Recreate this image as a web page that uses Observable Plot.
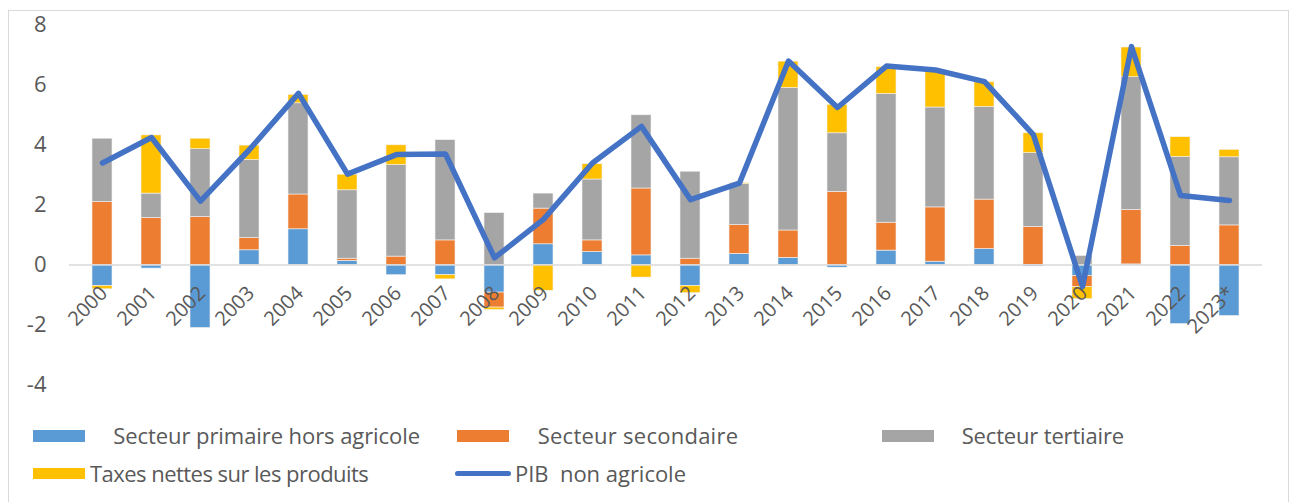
<!DOCTYPE html>
<html>
<head>
<meta charset="utf-8">
<script src="https://cdn.jsdelivr.net/npm/d3@7"></script>
<script src="https://cdn.jsdelivr.net/npm/@observablehq/plot@0.6"></script>
<style>
  html, body { margin: 0; padding: 0; background: #fff; }
  body { width: 1291px; height: 502px; position: relative; overflow: hidden; font-family: "Open Sans", sans-serif; }
  #frame { position: absolute; left: 7.5px; top: 9.5px; width: 1281.5px; height: 510px; border: 1.5px solid #d9d9d9; box-sizing: border-box; }
  #chart { position: absolute; left: 0; top: 0; }
  .lg { position: absolute; font-size: 22px; color: #595959; white-space: pre; line-height: 22px; }
  .sw { position: absolute; height: 11.5px; }
  .ln { position: absolute; height: 5px; border-radius: 3px; background: #4472C4; }
</style>
</head>
<body>
<div id="frame"></div>
<div id="chart"></div>
<div id="legend"></div>
<script>
const years = ["2000","2001","2002","2003","2004","2005","2006","2007","2008","2009","2010","2011","2012","2013","2014","2015","2016","2017","2018","2019","2020","2021","2022","2023*"];
const primaire   = [-0.70,-0.12,-2.10,0.49,1.19,0.14,-0.34,-0.34,-0.92,0.69,0.43,0.32,-0.70,0.37,0.24,-0.09,0.48,0.11,0.53,-0.05,-0.37,0.02,-1.97,-1.70];
const secondaire = [2.10,1.57,1.60,0.41,1.16,0.07,0.28,0.82,-0.50,1.19,0.39,2.23,0.21,0.96,0.91,2.44,0.93,1.81,1.65,1.27,-0.36,1.82,0.64,1.32];
const tertiaire  = [2.11,0.81,2.26,2.60,3.04,2.28,3.05,3.34,1.73,0.50,2.03,2.44,2.90,1.37,4.75,1.95,4.29,3.33,3.09,2.46,0.30,4.42,2.96,2.27];
const taxes      = [-0.11,1.94,0.35,0.48,0.28,0.52,0.66,-0.14,-0.08,-0.86,0.51,-0.42,-0.24,0.03,0.88,0.95,0.90,1.25,0.82,0.66,-0.41,0.99,0.66,0.25];
const pib        = [3.40,4.25,2.13,3.85,5.72,3.03,3.68,3.70,0.24,1.52,3.40,4.62,2.18,2.73,6.80,5.25,6.63,6.50,6.11,4.34,-0.72,7.28,2.32,2.15];
const seriesNames = ["Secteur primaire hors agricole","Secteur secondaire","Secteur tertiaire","Taxes nettes sur les produits"];
const seriesColors = ["#5B9BD5","#ED7D31","#A5A5A5","#FFC000"];
const lineName = "PIB  non agricole";
const lineColor = "#4472C4";
const yTicks = [-4,-2,0,2,4,6,8];

const seriesValues = [primaire, secondaire, tertiaire, taxes];
const rows = years.flatMap((yr, i) => seriesNames.map((s, k) => ({year: yr, series: s, value: seriesValues[k][i]})));
const lineRows = years.map((yr, i) => ({year: yr, value: pib[i]}));

const chart = Plot.plot({
  width: 1291,
  height: 400,
  marginTop: 24.5,
  marginBottom: 15.5,
  marginLeft: 69,
  marginRight: 29,
  style: {fontFamily: "Open Sans, sans-serif", fontSize: "22px", color: "#595959", background: "transparent", overflow: "visible"},
  x: {domain: years, paddingInner: 0.6, paddingOuter: 0.3, axis: null},
  y: {domain: [-4, 8], ticks: yTicks, tickSize: 0, tickPadding: 23, label: null, tickFormat: d => String(d)},
  color: {domain: seriesNames, range: seriesColors},
  marks: [
    Plot.barY(rows, {x: "year", y: "value", fill: "series", stroke: "#f2f2f2", strokeWidth: 0.6}),
    Plot.ruleY([0], {stroke: "#d9d9d9", strokeWidth: 1.5}),
    Plot.line(lineRows, {x: "year", y: "value", stroke: lineColor, strokeWidth: 5.5, strokeLinejoin: "round", strokeLinecap: "round"}),
    Plot.text(years, {x: d => d, y: () => 0, text: d => d, rotate: -45, textAnchor: "end", lineAnchor: "middle", dx: 1.5, dy: 25, fontSize: 20, fill: "#595959"})
  ]
});
document.getElementById("chart").appendChild(chart);

const legend = document.getElementById("legend");
function sw(left, top, w, color) {
  const d = document.createElement("div"); d.className = "sw";
  d.style.left = left + "px"; d.style.top = top + "px"; d.style.width = w + "px"; d.style.background = color;
  legend.appendChild(d);
}
function label(left, baseline, text, target) {
  const d = document.createElement("div"); d.className = "lg";
  d.style.left = left + "px"; d.style.top = (baseline - 19.5) + "px"; d.textContent = text;
  legend.appendChild(d);
  const w = d.getBoundingClientRect().width;
  d.style.letterSpacing = ((target - w) / text.length) + "px";
}
sw(32.7, 430.3, 52.3, seriesColors[0]); label(113.3, 443.3, seriesNames[0], 306.7);
sw(456.7, 430.3, 52.3, seriesColors[1]); label(537.7, 443.3, seriesNames[1], 200.6);
sw(881.7, 430.3, 52.3, seriesColors[2]); label(961.7, 443.3, seriesNames[2], 162.3);
sw(32.7, 467.7, 52.3, seriesColors[3]); label(90, 481.7, seriesNames[3], 278.3);
const ln = document.createElement("div"); ln.className = "ln";
ln.style.left = "455px"; ln.style.top = "470.8px"; ln.style.width = "56px"; legend.appendChild(ln);
label(515, 481.7, lineName, 171);
</script>
</body>
</html>
